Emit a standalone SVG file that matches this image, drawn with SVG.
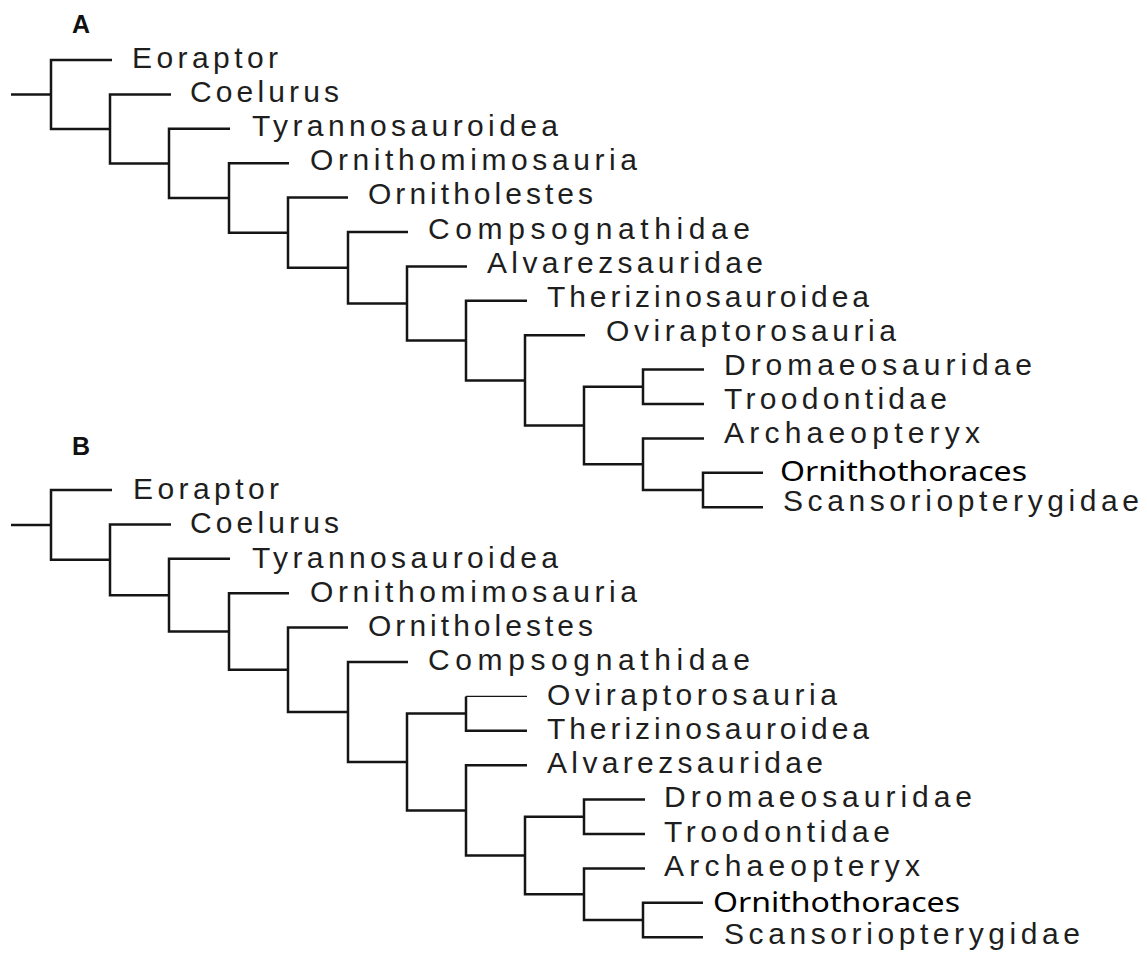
<svg xmlns="http://www.w3.org/2000/svg" width="1147" height="957" viewBox="0 0 1147 957">
<style>
.bg{fill:#ffffff}
.br{fill:none;stroke:#151515;stroke-width:2.5;stroke-linejoin:miter;stroke-linecap:butt}
.thin{fill:none;stroke:#151515;stroke-width:1.3}
.t{font-family:"Liberation Sans",Arial,sans-serif;font-size:30px;fill:#1e1e1e}
.o{font-family:"Noto Sans","Open Sans",sans-serif;font-size:28px;fill:#000000}
.p{font-family:"Liberation Sans",Arial,sans-serif;font-size:25px;font-weight:bold;fill:#111111}
</style>
<rect class="bg" x="0" y="0" width="1147" height="957"/>
<g id="panel-labels">
<text class="p" x="72" y="33">A</text>
<text class="p" x="72" y="455">B</text>
</g>
<g id="connectors">
<g id="connectors-A">
<path class="br" d="M11 94.5 H51"/>
<path class="br" d="M112 60 H51 V128.9 H110"/>
<path class="br" d="M171 94.4 H110 V163.4 H169"/>
<path class="br" d="M230 128.8 H169 V197.9 H229"/>
<path class="br" d="M289 163.2 H229 V232.7 H288"/>
<path class="br" d="M348 197.6 H288 V267.7 H348"/>
<path class="br" d="M408 232 H348 V303.5 H407"/>
<path class="br" d="M467 266.4 H407 V340.6 H466"/>
<path class="br" d="M527 300.8 H466 V380.4 H525"/>
<path class="br" d="M585 335.2 H525 V425.5 H584"/>
<path class="br" d="M643 386.8 H584 V464.2 H643"/>
<path class="br" d="M704 369.6 H643 V404 H704"/>
<path class="br" d="M704 438.4 H643 V490 H703"/>
<path class="br" d="M763 472.8 H703 V507.2 H763"/>
</g>
<g id="connectors-B">
<path class="br" d="M11 524.9 H51"/>
<path class="br" d="M112 490 H51 V559.8 H110"/>
<path class="br" d="M171 524.4 H110 V595.2 H169"/>
<path class="br" d="M230 558.8 H169 V631.5 H229"/>
<path class="br" d="M289 593.2 H229 V669.8 H288"/>
<path class="br" d="M348 627.6 H288 V712 H348"/>
<path class="br" d="M408 662 H348 V762 H407"/>
<path class="br" d="M466 713.6 H407 V810.4 H466"/>
<path class="br" d="M466 696.4 V730.8 H527"/>
<path class="thin" d="M466 696.4 H527"/>
<path class="br" d="M527 765.2 H466 V855.5 H525"/>
<path class="br" d="M584 816.8 H525 V894.2 H584"/>
<path class="br" d="M645 799.6 H584 V834 H645"/>
<path class="br" d="M645 868.4 H584 V920 H643"/>
<path class="br" d="M703 902.8 H643 V937.2 H703"/>
</g>
</g>
<g id="nodes-A">
<g id="A-eoraptor"><text class="t" x="132" y="68" textLength="146" lengthAdjust="spacing">Eoraptor</text></g>
<g id="A-coelurus"><text class="t" x="190" y="102.1" textLength="149" lengthAdjust="spacing">Coelurus</text></g>
<g id="A-tyrannosauroidea"><text class="t" x="252" y="136.2" textLength="306" lengthAdjust="spacing">Tyrannosauroidea</text></g>
<g id="A-ornithomimosauria"><text class="t" x="310" y="170.3" textLength="327" lengthAdjust="spacing">Ornithomimosauria</text></g>
<g id="A-ornitholestes"><text class="t" x="368" y="204.4" textLength="225" lengthAdjust="spacing">Ornitholestes</text></g>
<g id="A-compsognathidae"><text class="t" x="428" y="238.5" textLength="322" lengthAdjust="spacing">Compsognathidae</text></g>
<g id="A-alvarezsauridae"><text class="t" x="487" y="272.6" textLength="276" lengthAdjust="spacing">Alvarezsauridae</text></g>
<g id="A-therizinosauroidea"><text class="t" x="547" y="306.7" textLength="322" lengthAdjust="spacing">Therizinosauroidea</text></g>
<g id="A-oviraptorosauria"><text class="t" x="606" y="340.8" textLength="290" lengthAdjust="spacing">Oviraptorosauria</text></g>
<g id="A-dromaeosauridae"><text class="t" x="724" y="374.9" textLength="308" lengthAdjust="spacing">Dromaeosauridae</text></g>
<g id="A-troodontidae"><text class="t" x="724" y="409" textLength="223" lengthAdjust="spacing">Troodontidae</text></g>
<g id="A-archaeopteryx"><text class="t" x="724" y="443.1" textLength="256" lengthAdjust="spacing">Archaeopteryx</text></g>
<g id="A-ornithothoraces"><text class="o" x="780" y="481" textLength="247" lengthAdjust="spacingAndGlyphs">Ornithothoraces</text></g>
<g id="A-scansoriopterygidae"><text class="t" x="783" y="511.3" textLength="356" lengthAdjust="spacing">Scansoriopterygidae</text></g>
</g>
<g id="nodes-B">
<g id="B-eoraptor"><text class="t" x="133" y="499" textLength="146" lengthAdjust="spacing">Eoraptor</text></g>
<g id="B-coelurus"><text class="t" x="190" y="533.3" textLength="149" lengthAdjust="spacing">Coelurus</text></g>
<g id="B-tyrannosauroidea"><text class="t" x="252" y="567.5" textLength="306" lengthAdjust="spacing">Tyrannosauroidea</text></g>
<g id="B-ornithomimosauria"><text class="t" x="310" y="601.8" textLength="327" lengthAdjust="spacing">Ornithomimosauria</text></g>
<g id="B-ornitholestes"><text class="t" x="368" y="636" textLength="225" lengthAdjust="spacing">Ornitholestes</text></g>
<g id="B-compsognathidae"><text class="t" x="428" y="670.3" textLength="322" lengthAdjust="spacing">Compsognathidae</text></g>
<g id="B-oviraptorosauria"><text class="t" x="547" y="704.5" textLength="290" lengthAdjust="spacing">Oviraptorosauria</text></g>
<g id="B-therizinosauroidea"><text class="t" x="547" y="738.8" textLength="322" lengthAdjust="spacing">Therizinosauroidea</text></g>
<g id="B-alvarezsauridae"><text class="t" x="547" y="773" textLength="276" lengthAdjust="spacing">Alvarezsauridae</text></g>
<g id="B-dromaeosauridae"><text class="t" x="664" y="807.3" textLength="308" lengthAdjust="spacing">Dromaeosauridae</text></g>
<g id="B-troodontidae"><text class="t" x="664" y="841.5" textLength="226" lengthAdjust="spacing">Troodontidae</text></g>
<g id="B-archaeopteryx"><text class="t" x="664" y="875.8" textLength="256" lengthAdjust="spacing">Archaeopteryx</text></g>
<g id="B-ornithothoraces"><text class="o" x="713" y="912" textLength="247" lengthAdjust="spacingAndGlyphs">Ornithothoraces</text></g>
<g id="B-scansoriopterygidae"><text class="t" x="724" y="944.3" textLength="356" lengthAdjust="spacing">Scansoriopterygidae</text></g>
</g>
</svg>
